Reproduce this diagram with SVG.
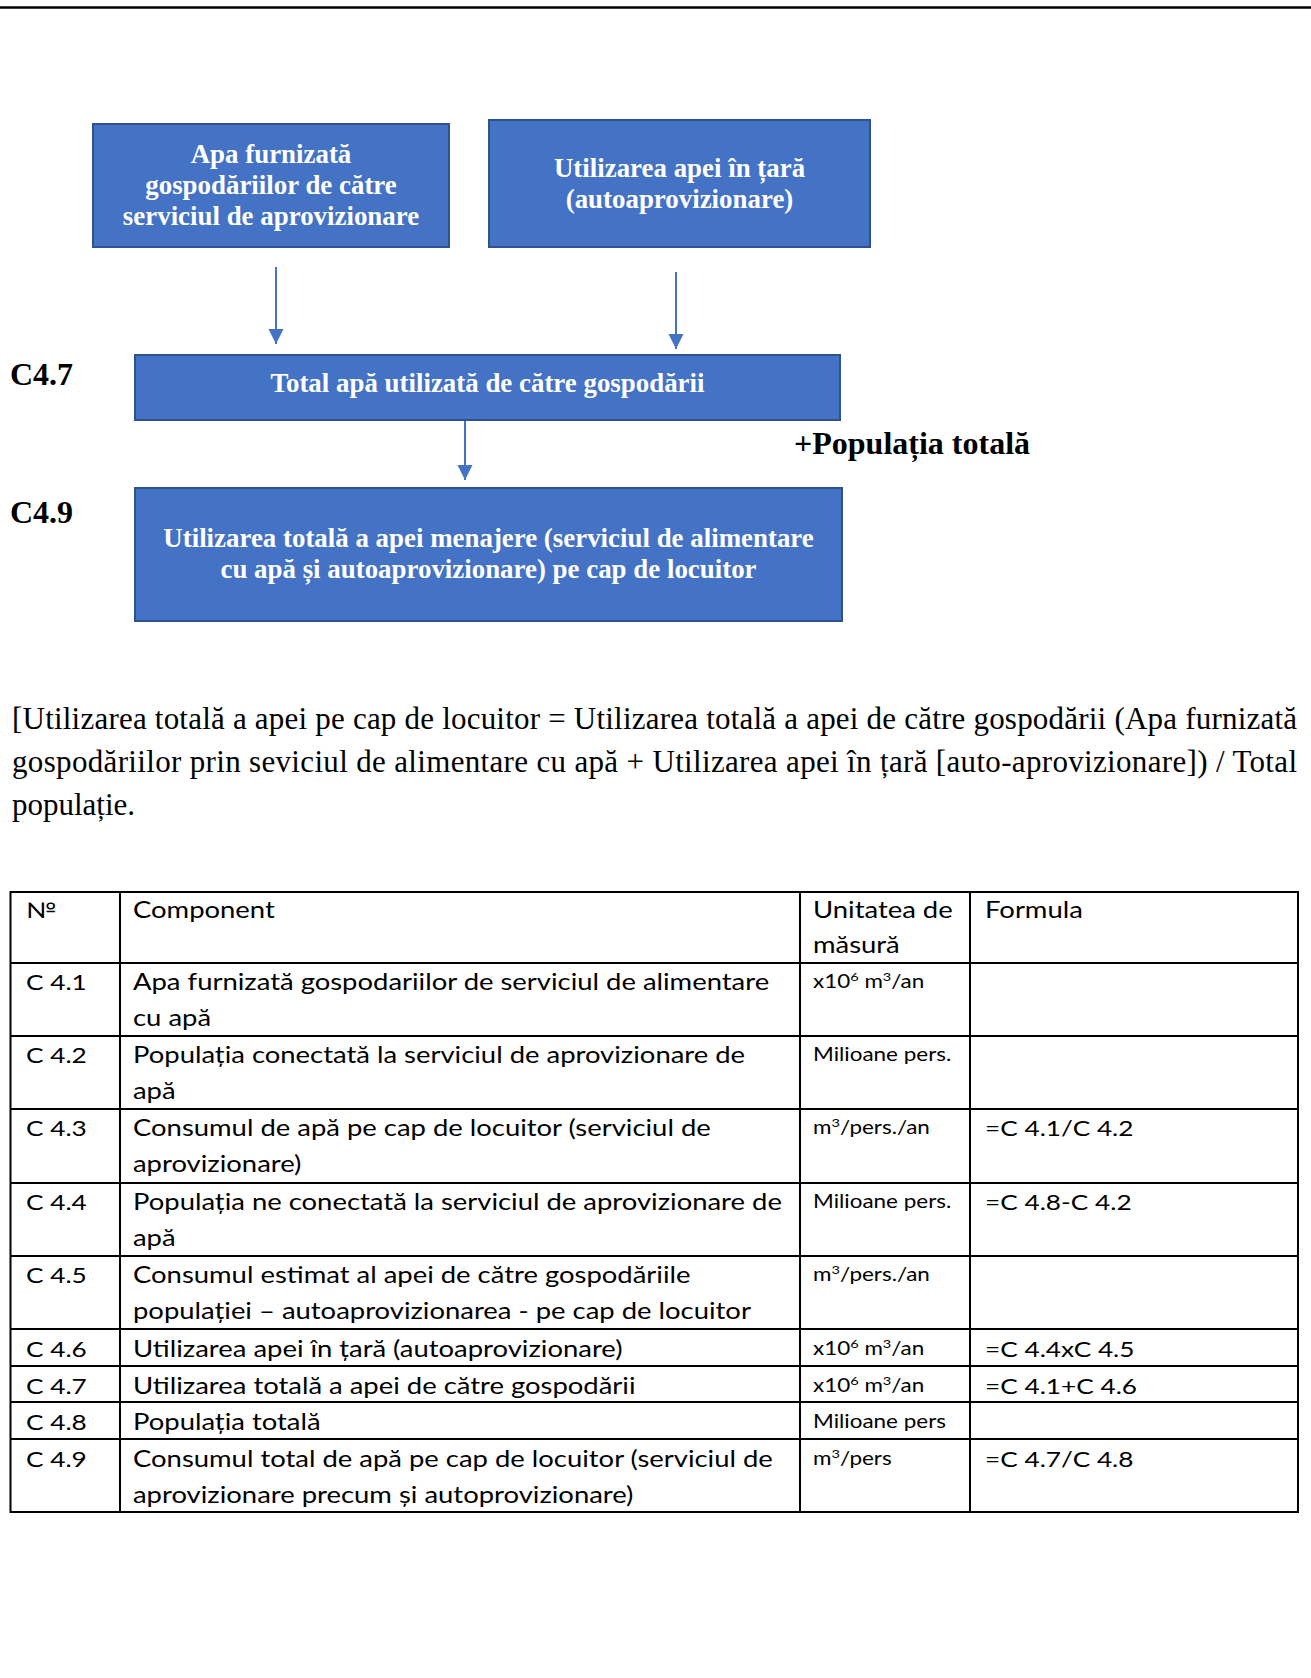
<svg xmlns="http://www.w3.org/2000/svg" width="1311" height="1678" viewBox="0 0 1311 1678">
<defs>
<style>
.box{fill:#4472C4;stroke:#2F528F;stroke-width:2}
.bt{font-family:"Liberation Serif","Times New Roman",serif;font-weight:bold;font-size:26.9px;fill:#ffffff;text-anchor:middle}
.lbl{font-family:"Liberation Serif","Times New Roman",serif;font-weight:bold;font-size:32px;fill:#000}
.para{font-family:"Liberation Serif","Times New Roman",serif;font-size:31px;fill:#000}
.td{font-family:Lato,"Liberation Sans",sans-serif;font-size:22.5px;fill:#000}
.tn{font-size:21.5px}
.tu{font-size:18.4px}
.sup{font-size:65%;baseline-shift:super}
.conn{stroke:#4472C4;stroke-width:2;fill:none;marker-end:url(#ah)}
.grid{stroke:#000;stroke-width:2;fill:none}
</style>
<marker id="ah" markerUnits="userSpaceOnUse" markerWidth="16" markerHeight="16" refX="15" refY="7.5" orient="auto">
<path d="M0,0 L15,7.5 L0,15 Z" fill="#4472C4"/>
</marker>
</defs>
<rect x="0" y="0" width="1311" height="1678" fill="#ffffff"/>
<line x1="0" y1="7.5" x2="1311" y2="7.5" stroke="#000" stroke-width="2.5"/>

<g id="connectors">
<line class="conn" x1="276" y1="267" x2="276" y2="344"/>
<line class="conn" x1="676" y1="272" x2="676" y2="349"/>
<line class="conn" x1="465" y1="420" x2="465" y2="480"/>
</g>

<g id="node-apa-furnizata">
<rect class="box" x="93" y="124" width="356" height="123"/>
<text class="bt" x="271" y="163">Apa furnizată</text>
<text class="bt" x="271" y="194">gospodăriilor de către</text>
<text class="bt" x="271" y="225">serviciul de aprovizionare</text>
</g>
<g id="node-utilizarea-tara">
<rect class="box" x="489" y="120" width="381" height="127"/>
<text class="bt" x="679.5" y="177">Utilizarea apei în țară</text>
<text class="bt" x="679.5" y="208">(autoaprovizionare)</text>
</g>
<g id="node-total">
<rect class="box" x="135" y="355" width="705" height="65"/>
<text class="bt" x="487.5" y="392">Total apă utilizată de către gospodării</text>
</g>
<g id="node-per-capita">
<rect class="box" x="135" y="488" width="707" height="133"/>
<text class="bt" x="488.5" y="547">Utilizarea totală a apei menajere (serviciul de alimentare</text>
<text class="bt" x="488.5" y="578">cu apă și autoaprovizionare) pe cap de locuitor</text>
</g>

<g id="labels">
<text class="lbl" x="10" y="385">C4.7</text>
<text class="lbl" x="10" y="523">C4.9</text>
<text class="lbl" x="794" y="454">+Populația totală</text>
</g>

<g id="paragraph">
<text class="para" x="12" y="729" textLength="1285" lengthAdjust="spacing">[Utilizarea totală a apei pe cap de locuitor = Utilizarea totală a apei de către gospodării (Apa furnizată</text>
<text class="para" x="12" y="772" textLength="1285" lengthAdjust="spacing">gospodăriilor prin seviciul de alimentare cu apă + Utilizarea apei în țară [auto-aprovizionare]) / Total</text>
<text class="para" x="12" y="815">populație.</text>
</g>

<g id="table-grid">
<rect class="grid" x="10.5" y="892" width="1287.5" height="620"/>
<line class="grid" x1="120" y1="892" x2="120" y2="1512"/>
<line class="grid" x1="800" y1="892" x2="800" y2="1512"/>
<line class="grid" x1="970" y1="892" x2="970" y2="1512"/>
<line class="grid" x1="10.5" y1="963" x2="1298" y2="963"/>
<line class="grid" x1="10.5" y1="1036" x2="1298" y2="1036"/>
<line class="grid" x1="10.5" y1="1109" x2="1298" y2="1109"/>
<line class="grid" x1="10.5" y1="1183" x2="1298" y2="1183"/>
<line class="grid" x1="10.5" y1="1256" x2="1298" y2="1256"/>
<line class="grid" x1="10.5" y1="1329" x2="1298" y2="1329"/>
<line class="grid" x1="10.5" y1="1366" x2="1298" y2="1366"/>
<line class="grid" x1="10.5" y1="1402" x2="1298" y2="1402"/>
<line class="grid" x1="10.5" y1="1439" x2="1298" y2="1439"/>
</g>

<g id="table-text" class="td" transform="scale(1.22,1)">
<text class="tn" x="21.3" y="918">№</text>
<text x="109" y="918">Component</text>
<text x="666.4" y="918">Unitatea de</text>
<text x="666.4" y="953">măsură</text>
<text x="807.4" y="918">Formula</text>

<text class="tn" x="21.3" y="990">C 4.1</text>
<text x="109" y="990">Apa furnizată gospodariilor de serviciul de alimentare</text>
<text x="109" y="1026">cu apă</text>
<text class="tu" x="666.4" y="988">x10<tspan class="sup">6</tspan>  m<tspan class="sup">3</tspan>/an</text>

<text class="tn" x="21.3" y="1063">C 4.2</text>
<text x="109" y="1063">Populația conectată la serviciul de aprovizionare de</text>
<text x="109" y="1099">apă</text>
<text class="tu" x="666.4" y="1061">Milioane pers.</text>

<text class="tn" x="21.3" y="1136">C 4.3</text>
<text x="109" y="1136">Consumul de apă pe cap de locuitor (serviciul de</text>
<text x="109" y="1172">aprovizionare)</text>
<text class="tu" x="666.4" y="1134">m<tspan class="sup">3</tspan>/pers./an</text>
<text class="tn" x="807.4" y="1136">=C 4.1/C 4.2</text>

<text class="tn" x="21.3" y="1210">C 4.4</text>
<text x="109" y="1210">Populația ne conectată la serviciul de aprovizionare de</text>
<text x="109" y="1246">apă</text>
<text class="tu" x="666.4" y="1208">Milioane pers.</text>
<text class="tn" x="807.4" y="1210">=C 4.8-C 4.2</text>

<text class="tn" x="21.3" y="1283">C 4.5</text>
<text x="109" y="1283">Consumul estimat al apei de către gospodăriile</text>
<text x="109" y="1319">populației – autoaprovizionarea - pe cap de locuitor</text>
<text class="tu" x="666.4" y="1281">m<tspan class="sup">3</tspan>/pers./an</text>

<text class="tn" x="21.3" y="1357">C 4.6</text>
<text x="109" y="1357">Utilizarea apei în țară (autoaprovizionare)</text>
<text class="tu" x="666.4" y="1355">x10<tspan class="sup">6</tspan> m<tspan class="sup">3</tspan>/an</text>
<text class="tn" x="807.4" y="1357">=C 4.4xC 4.5</text>

<text class="tn" x="21.3" y="1394">C 4.7</text>
<text x="109" y="1394">Utilizarea totală a apei de către gospodării</text>
<text class="tu" x="666.4" y="1392">x10<tspan class="sup">6</tspan> m<tspan class="sup">3</tspan>/an</text>
<text class="tn" x="807.4" y="1394">=C 4.1+C 4.6</text>

<text class="tn" x="21.3" y="1430">C 4.8</text>
<text x="109" y="1430">Populația totală</text>
<text class="tu" x="666.4" y="1428">Milioane pers</text>

<text class="tn" x="21.3" y="1467">C 4.9</text>
<text x="109" y="1467">Consumul total de apă pe cap de locuitor (serviciul de</text>
<text x="109" y="1503">aprovizionare precum și autoprovizionare)</text>
<text class="tu" x="666.4" y="1465">m<tspan class="sup">3</tspan>/pers</text>
<text class="tn" x="807.4" y="1467">=C 4.7/C 4.8</text>
</g>
</svg>
